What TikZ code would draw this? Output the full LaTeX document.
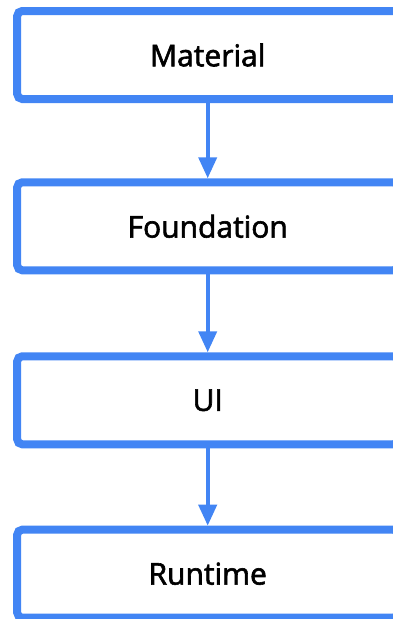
\documentclass[tikz,border=0pt]{standalone}
\usepackage{fontspec}
\newfontfamily\labelfont{Open Sans}[FakeBold=2]
\usetikzlibrary{arrows.meta}
\definecolor{gblue}{HTML}{4285F4}
\tikzset{
  layer/.style={draw=gblue, line width=8pt, rounded corners=5pt, fill=white,
    minimum width=381pt, minimum height=88pt, inner sep=0pt,
    font=\labelfont\fontsize{30}{36}\selectfont, text=black},
  dep/.style={draw=gblue, line width=4pt,
    -{Triangle[width=18pt,length=21pt]}, gblue},
}
\begin{document}
\begin{tikzpicture}[x=1pt,y=-1pt]
  \useasboundingbox (0,0) rectangle (393,619);
  \clip (0,0) rectangle (393,619);
  % library layers, top to bottom
  \node[layer] (material)   at (207.7,55)    {Material};
  \node[layer] (foundation) at (207.7,226.3) {Foundation};
  \node[layer] (ui)         at (207.7,400.3) {UI};
  \node[layer] (runtime)    at (207.7,573.7) {Runtime};
  % dependency arrows
  \draw[dep] (material.south)   -- (foundation.north);
  \draw[dep] (foundation.south) -- (ui.north);
  \draw[dep] (ui.south)         -- (runtime.north);
\end{tikzpicture}
\end{document}
